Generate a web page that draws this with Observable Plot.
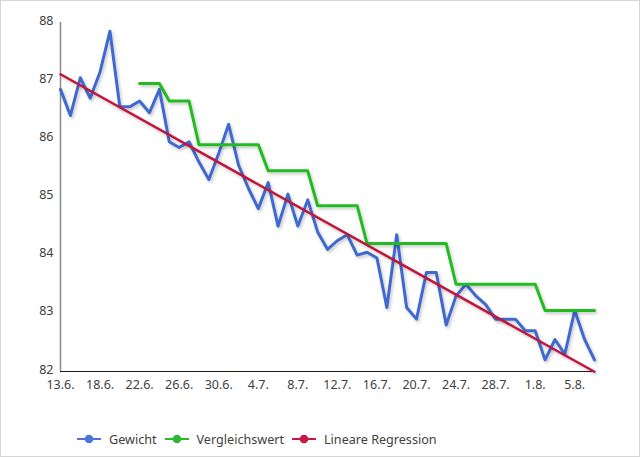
<!DOCTYPE html>
<html><head><meta charset="utf-8">
<script src="https://cdn.jsdelivr.net/npm/d3@7"></script>
<script src="https://cdn.jsdelivr.net/npm/@observablehq/plot@0.6"></script>
<style>
body{margin:0;background:#fff;font-family:"Noto Sans",sans-serif;}
#wrap{position:relative;width:640px;height:457px;overflow:hidden;background:#fff;}
#frame{position:absolute;left:0;top:0;width:638px;height:455px;border:1px solid #d6d6d6;pointer-events:none;}
#chart{position:absolute;left:0;top:0;}
#legend{position:absolute;left:77px;top:430px;height:18px;display:flex;align-items:center;font-size:12.6px;color:#404040;white-space:nowrap;}
.item{display:flex;align-items:center;margin-right:8px;}
.item svg{margin-right:8px;}
</style></head>
<body>
<div id="wrap"><div id="chart"></div><div id="legend"></div><div id="frame"></div></div>
<script>
const dates = ["13.6.","15.6.","16.6.","17.6.","18.6.","19.6.","20.6.","21.6.","22.6.","23.6.",
"24.6.","25.6.","26.6.","27.6.","28.6.","29.6.","30.6.","1.7.","2.7.","3.7.",
"4.7.","5.7.","6.7.","7.7.","8.7.","9.7.","10.7.","11.7.","12.7.","13.7.",
"14.7.","15.7.","16.7.","17.7.","18.7.","19.7.","20.7.","21.7.","22.7.","23.7.",
"24.7.","25.7.","26.7.","27.7.","28.7.","29.7.","30.7.","31.7.","1.8.","2.8.",
"3.8.","4.8.","5.8.","6.8.","7.8."];
const gewicht = [86.85,86.4,87.05,86.7,87.15,87.85,86.55,86.55,86.65,86.45,
86.85,85.95,85.85,85.95,85.6,85.3,85.75,86.25,85.55,85.15,
84.8,85.25,84.5,85.05,84.5,84.95,84.4,84.1,84.25,84.35,
84.0,84.05,83.95,83.1,84.35,83.1,82.9,83.7,83.7,82.8,
83.3,83.5,83.3,83.15,82.9,82.9,82.9,82.7,82.7,82.2,
82.55,82.3,83.05,82.55,82.2];
const vergleichswert = [null,null,null,null,null,null,null,null,86.95,86.95,
86.95,86.65,86.65,86.65,85.9,85.9,85.9,85.9,85.9,85.9,
85.9,85.45,85.45,85.45,85.45,85.45,84.85,84.85,84.85,84.85,
84.85,84.2,84.2,84.2,84.2,84.2,84.2,84.2,84.2,84.2,
83.5,83.5,83.5,83.5,83.5,83.5,83.5,83.5,83.5,83.05,
83.05,83.05,83.05,83.05,83.05];
const xTickLabels = ["13.6.","18.6.","22.6.","26.6.","30.6.","4.7.","8.7.","12.7.","16.7.","20.7.","24.7.","28.7.","1.8.","5.8."];
const yTicks = [82,83,84,85,86,87,88];
const seriesNames = ["Gewicht","Vergleichswert","Lineare Regression"];
const colors = ["#4169CF","#22BB22","#C0143C"];
const legendColors = ["#4a76d8","#2fb82f","#c8183f"];

const rows = dates.map((d,i)=>({i, date:d, gewicht:gewicht[i], vergleich:vergleichswert[i]}));
const xTicks = xTickLabels.map(l=>dates.indexOf(l));

const svg = Plot.plot({
  width:640, height:400,
  marginLeft:60, marginRight:46, marginTop:22, marginBottom:29,
  style:{fontFamily:'"Noto Sans",sans-serif', fontSize:"12.5px", color:"#404040", background:"transparent", overflow:"visible"},
  x:{domain:[0,dates.length-1]},
  y:{domain:[82,88]},
  marks:[
    Plot.axisX({ticks:xTicks, tickFormat:i=>dates[i], tickSize:0, tickPadding:9, label:null}),
    Plot.axisY({ticks:yTicks, tickFormat:d=>String(d), tickSize:0, tickPadding:7, dy:-2, label:null}),
    Plot.ruleX([0],{stroke:"#8a8a8a", strokeWidth:1.5}),
    Plot.ruleY([82],{stroke:"#1a1a1a", strokeWidth:1}),
    Plot.line(rows,{x:"i", y:"gewicht", stroke:colors[0], strokeWidth:3, strokeLinejoin:"round"}),
    Plot.line(rows.filter(r=>r.vergleich!=null),{x:"i", y:"vergleich", stroke:colors[1], strokeWidth:3, strokeLinejoin:"round"}),
    Plot.linearRegressionY(rows,{x:"i", y:"gewicht", stroke:colors[2], strokeWidth:2.5, ci:0})
  ]
});
document.getElementById("chart").appendChild(svg);

// soft shadow like the original
const s = d3.select(svg);
const f = s.insert("defs",":first-child").append("filter").attr("id","sh").attr("x","-5%").attr("y","-5%").attr("width","110%").attr("height","115%");
f.append("feDropShadow").attr("dx",1.5).attr("dy",2).attr("stdDeviation",1.5).attr("flood-color","#000").attr("flood-opacity",0.22);
s.selectAll('g[aria-label="line"], g[aria-label="linear-regression"]').attr("filter","url(#sh)");

const lg = d3.select("#legend");
seriesNames.forEach((n,k)=>{
  const it = lg.append("div").attr("class","item");
  const m = it.append("svg").attr("width",24).attr("height",10);
  m.append("line").attr("x1",0).attr("x2",24).attr("y1",5).attr("y2",5).attr("stroke",legendColors[k]).attr("stroke-width",2);
  m.append("circle").attr("cx",12).attr("cy",5).attr("r",4.3).attr("fill",legendColors[k]);
  it.append("span").text(n);
});
</script>
</body></html>
